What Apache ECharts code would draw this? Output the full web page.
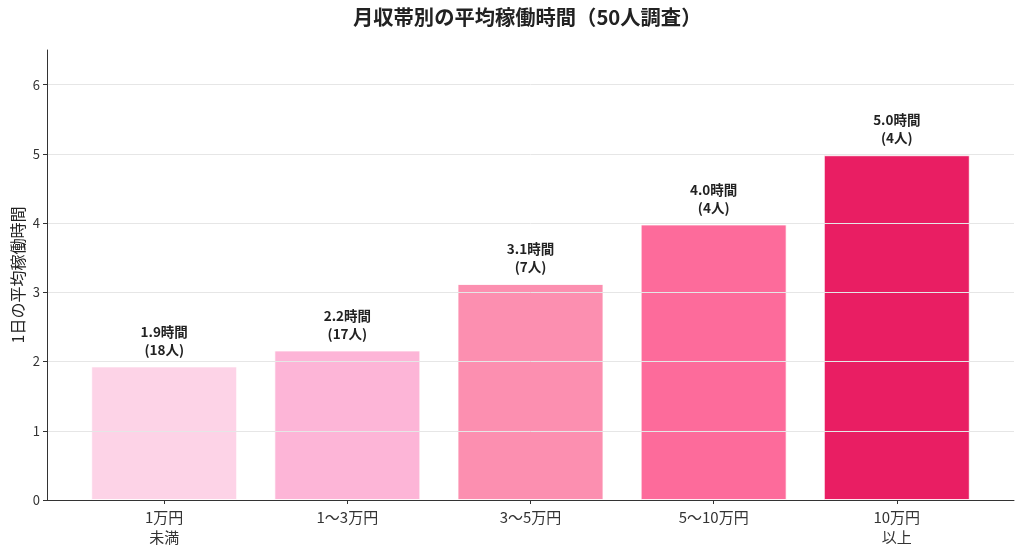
<!DOCTYPE html>
<html>
<head>
<meta charset="utf-8">
<script src="https://cdn.jsdelivr.net/npm/echarts@6/dist/echarts.min.js"></script>
<style>
  html, body { margin: 0; padding: 0; background: #fff; }
  #main { width: 1024px; height: 554px; }
</style>
</head>
<body>
<div id="main"></div>
<script>
// 月収帯別の平均稼働時間
var categories = ['1万円\n未満', '1〜3万円', '3〜5万円', '5〜10万円', '10万円\n以上'];
var hours = [1.93, 2.16, 3.12, 3.98, 4.98];
var people = [18, 17, 7, 4, 4];
var barColors = ['#fdd3e7', '#fdb5d7', '#fc8fb0', '#fd6b9b', '#e91e63'];
var catTicks = [0, 1, 2, 3, 4];

var chart = echarts.init(document.getElementById('main'));
var font = '"Noto Sans CJK JP", "Noto Sans", sans-serif';

var barData = hours.map(function (v, i) {
    return {
        value: [i, v],
        itemStyle: { color: barColors[i] },
        label: { formatter: v.toFixed(1) + '時間\n(' + people[i] + '人)' }
    };
});

var option = {
    backgroundColor: '#ffffff',
    textStyle: { fontFamily: font },
    title: {
        text: '月収帯別の平均稼働時間（50人調査）',
        left: 348,
        top: 2,
        textStyle: { fontSize: 20.3, fontWeight: 'bold', color: '#222', fontFamily: font }
    },
    grid: { left: 47, right: 10, top: 50, bottom: 54, outerBoundsMode: 'none', containLabel: false },
    xAxis: {
        type: 'value',
        min: -0.64,
        max: 4.64,
        splitLine: { show: false },
        axisLine: { show: true, onZero: false, lineStyle: { color: '#333', width: 1 } },
        axisTick: { show: true, customValues: catTicks, length: 4, lineStyle: { color: '#333' } },
        axisLabel: {
            customValues: catTicks,
            formatter: function (v) { return categories[Math.round(v)]; },
            color: '#333',
            fontSize: 15,
            lineHeight: 20,
            margin: 7,
            fontFamily: font
        }
    },
    yAxis: {
        type: 'value',
        min: 0,
        max: 6.5,
        interval: 1,
        name: '1日の平均稼働時間',
        nameLocation: 'middle',
        nameGap: 21,
        nameMoveOverlap: false,
        nameTextStyle: { fontSize: 16, color: '#222', fontFamily: font },
        axisLine: { show: true, onZero: false, lineStyle: { color: '#333', width: 1 } },
        axisTick: { show: true, length: 4, lineStyle: { color: '#333' } },
        axisLabel: {
            color: '#333',
            fontSize: 13,
            margin: 7,
            showMaxLabel: false,
            fontFamily: font
        },
        splitLine: { show: true, showMaxLine: false, lineStyle: { color: '#e6e6e6', width: 1 } }
    },
    series: [
        {
            type: 'bar',
            z: -1,
            barWidth: 146,
            data: barData,
            itemStyle: { borderColor: 'rgba(255,255,255,0.8)', borderWidth: 1 },
            label: {
                show: true,
                position: 'top',
                distance: 8,
                color: '#222',
                fontSize: 13.5,
                fontWeight: 'bold',
                lineHeight: 18,
                fontFamily: font
            }
        }
    ]
};
chart.setOption(option);
</script>
</body>
</html>
